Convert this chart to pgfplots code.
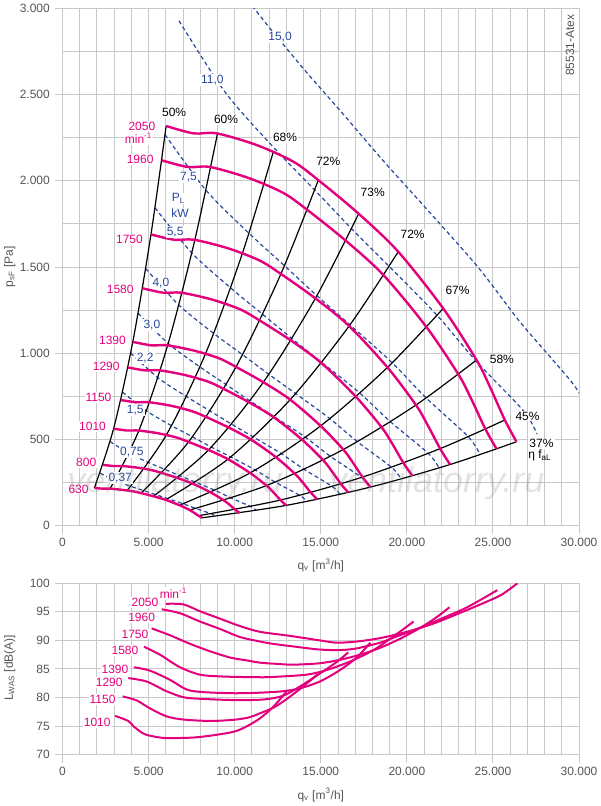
\documentclass[border=0pt]{standalone}
\usepackage{pgfplots}
\pgfplotsset{compat=1.18}
\usepackage{fontspec}
\setmainfont{Liberation Sans}
\definecolor{mag}{RGB}{228,0,124}
\definecolor{pblue}{RGB}{40,72,158}
\definecolor{gridc}{RGB}{200,200,200}
\definecolor{tickc}{RGB}{85,85,85}
\newcommand\fs{\fontsize{9}{10.8}\selectfont}
\tikzset{lab/.style={font=\fs, inner sep=0.8pt, fill=white}}
\pgfplotsset{
  chart/.style={
    scale only axis, width=387.4pt, xmin=0, xmax=30000,
    xtick={0,5000,...,30000}, minor x tick num=4,
    grid=both,
    major grid style={draw=gridc, line width=0.75pt},
    minor grid style={draw=gridc, line width=0.75pt},
    axis line style={draw=gridc, line width=0.75pt},
    tick align=outside, major tick length=6pt, minor tick length=0pt,
    tick style={draw=gridc, line width=0.75pt},
    xtick pos=bottom, ytick pos=left,
    scaled ticks=false,
    ticklabel style={font=\fs, text=tickc},
    /pgf/number format/1000 sep={.},
    /pgf/number format/assume math mode=true,
    clip mode=individual,
  },
  sc/.style={mag, line width=1.8pt, smooth, tension=0.5},
  ef/.style={black, line width=0.9pt, smooth},
  pw/.style={pblue, line width=0.9pt, dash pattern=on 3pt off 2.2pt, smooth, tension=0.5},
}
\begin{document}
\begin{tikzpicture}
\useasboundingbox (0pt,0pt) rectangle (450pt,604.5pt);
% ================= TOP CHART =================
\begin{axis}[chart, at={(46.9pt,210.2pt)}, anchor=south west,
  height=388.05pt, ymin=0, ymax=3000, ytick={0,500,...,3000}, minor y tick num=1]
% power lines
\addplot[pw] coordinates {(2183,305)(3054,262)(3971,228)(4726,203)(5418,180)(6124,157)(7020,127)(7742,100)(8640,69)(8894,55)};
\addplot[pw] coordinates {(2762,488)(3865,419)(5025,365)(5981,325)(6858,288)(7751,251)(8886,204)(9801,160)(10936,111)(11256,89)};
\addplot[pw] coordinates {(3480,775)(4869,666)(6331,580)(7536,516)(8640,456)(9765,399)(11196,323)(12350,253)(13780,176)(14180,141)};
\addplot[pw] coordinates {(3956,1002)(5531,859)(7193,749)(8563,666)(9816,589)(11092,514)(12722,417)(14030,327)(15656,228)(16110,182)};
\addplot[pw] coordinates {(4387,1232)(6134,1057)(7977,921)(9494,819)(10884,724)(12301,632)(14108,513)(15560,402)(17361,280)(17866,224)};
\addplot[pw] coordinates {(4828,1492)(6752,1280)(8779,1115)(10451,992)(11980,878)(13539,766)(15527,621)(17125,487)(19108,339)(19667,271)};
\addplot[pw] coordinates {(5368,1844)(7507,1582)(9762,1379)(11622,1226)(13321,1085)(15054,947)(17267,769)(19044,603)(21248,419)(21866,335)};
\addplot[pw] coordinates {(5952,2268)(8325,1946)(10826,1696)(12888,1508)(14771,1334)(16694,1165)(19146,945)(21119,741)(23563,516)(24252,412)};
\addplot[pw] coordinates {(6764,2928)(9459,2512)(12300,2189)(14642,1947)(16784,1722)(18968,1504)(21753,1220)(23995,957)(26772,666)(27554,532)};
\addplot[pw] coordinates {(7500,3600)(10490,3089)(13640,2692)(16236,2394)(18610,2118)(21034,1849)(24123,1500)(26608,1177)(29685,818)(30556,654)};
% efficiency lines
\addplot[ef] coordinates {(1849,219)(2965,563)(4080,1066)(5137,1689)(6018,2318)};
\addplot[ef] coordinates {(2766,215)(4434,552)(6102,1045)(7683,1657)(9000,2274)};
\addplot[ef] coordinates {(3763,205)(6032,527)(8302,997)(10452,1581)(12244,2169)};
\addplot[ef] coordinates {(4566,189)(7319,486)(10073,921)(12682,1460)(14856,2004)};
\addplot[ef] coordinates {(5286,171)(8474,439)(11662,832)(14683,1318)(17200,1809)};
\addplot[ef] coordinates {(5992,150)(9606,386)(13221,731)(16645,1158)(19498,1589)};
\addplot[ef] coordinates {(6795,119)(10893,306)(14991,579)(18874,918)(22109,1260)};
\addplot[ef] coordinates {(7390,91)(11846,233)(16304,442)(20526,700)(24045,961)};
\addplot[ef] coordinates {(7895,58)(12657,149)(17419,282)(21930,447)(25690,613)};
\addplot[ef] coordinates {(8103,46)(12990,118)(17878,224)(22508,355)(26367,487)};
% speed curves
\addplot[sc] coordinates {(6018,2318)(7602,2275)(8960,2275)(11281,2207)(13405,2111)(14856,2004)(17177,1811)(19498,1589)(22109,1260)(24045,961)(24819,806)(25690,613)(26367,487)};
\addplot[sc] coordinates {(5754,2119)(7268,2080)(8567,2080)(10786,2017)(12817,1930)(14204,1832)(16423,1655)(18642,1453)(21138,1152)(22989,878)(23729,737)(24562,560)(25210,445)};
\addplot[sc] coordinates {(5137,1689)(6490,1658)(7649,1658)(9630,1608)(11443,1538)(12682,1460)(14663,1320)(16645,1158)(18874,918)(20526,700)(21187,587)(21930,447)(22508,355)};
\addplot[sc] coordinates {(4638,1377)(5859,1351)(6906,1351)(8695,1311)(10332,1254)(11450,1190)(13239,1076)(15028,944)(17040,748)(18532,571)(19129,479)(19800,364)(20322,289)};
\addplot[sc] coordinates {(4080,1066)(5155,1046)(6075,1046)(7649,1015)(9089,971)(10073,921)(11647,833)(13221,731)(14991,579)(16304,442)(16829,371)(17419,282)(17878,224)};
\addplot[sc] coordinates {(3787,918)(4784,901)(5638,901)(7099,874)(8435,836)(9348,794)(10809,717)(12269,629)(13912,499)(15131,381)(15618,319)(16166,243)(16592,193)};
\addplot[sc] coordinates {(3376,729)(4265,716)(5026,716)(6328,695)(7520,664)(8334,631)(9636,570)(10938,500)(12403,397)(13489,302)(13923,254)(14412,193)(14791,153)};
\addplot[sc] coordinates {(2965,563)(3745,552)(4414,552)(5558,536)(6604,512)(7319,486)(8463,440)(9606,386)(10893,306)(11846,233)(12228,196)(12657,149)(12990,118)};
\addplot[sc] coordinates {(2348,353)(2967,346)(3497,346)(4402,336)(5231,321)(5797,305)(6703,276)(7609,242)(8628,192)(9383,146)(9685,123)(10025,93)(10290,74)};
\addplot[sc] coordinates {(1849,219)(2336,215)(2754,215)(3467,208)(4120,199)(4566,189)(5279,171)(5992,150)(6795,119)(7390,91)(7627,76)(7895,58)(8103,46)};
% speed labels
\node[lab, text=mag] at (axis cs:4607,2318) {2050};
\node[lab, text=mag] at (axis cs:4410,2246) {min\textsuperscript{-1}};
\node[lab, text=mag] at (axis cs:4509,2124) {1960};
\node[lab, text=mag] at (axis cs:3888,1661) {1750};
\node[lab, text=mag] at (axis cs:3348,1372) {1580};
\node[lab, text=mag] at (axis cs:2902,1077) {1390};
\node[lab, text=mag] at (axis cs:2536,922) {1290};
\node[lab, text=mag] at (axis cs:2089,742) {1150};
\node[lab, text=mag] at (axis cs:1741,574) {1010};
\node[lab, text=mag] at (axis cs:1375,365) {800};
\node[lab, text=mag] at (axis cs:928,213) {630};
% power labels
\node[lab, text=pblue] at (axis cs:12633,2835) {15,0};
\node[lab, text=pblue] at (axis cs:8705,2584) {11,0};
\node[lab, text=pblue] at (axis cs:7312,2024) {7,5};
\node[lab, text=pblue] at (axis cs:6731,1898) {P\textsubscript{L}};
\node[lab, text=pblue] at (axis cs:6830,1811) {kW};
\node[lab, text=pblue] at (axis cs:6540,1705) {5,5};
\node[lab, text=pblue] at (axis cs:5710,1405) {4,0};
\node[lab, text=pblue] at (axis cs:5188,1164) {3,0};
\node[lab, text=pblue] at (axis cs:4799,970) {2,2};
\node[lab, text=pblue] at (axis cs:4219,671) {1,5};
\node[lab, text=pblue] at (axis cs:4027,429) {0,75};
\node[lab, text=pblue] at (axis cs:3348,275) {0,37};
% efficiency labels
\node[lab] at (axis cs:6482,2395) {50\%};
\node[lab] at (axis cs:9499,2356) {60\%};
\node[lab] at (axis cs:12923,2252) {68\%};
\node[lab] at (axis cs:15436,2111) {72\%};
\node[lab] at (axis cs:18013,1931) {73\%};
\node[lab] at (axis cs:20333,1690) {72\%};
\node[lab] at (axis cs:22944,1363) {67\%};
\node[lab] at (axis cs:25515,965) {58\%};
\node[lab] at (axis cs:27006,636) {45\%};
\node[lab] at (axis cs:27817,478) {37\%};
\node[font=\fs, inner sep=0.8pt] at (axis cs:27720,405) {η f\textsubscript{aL}};
\node[font=\fs, text=tickc, rotate=90] at (axis cs:29472,2787) {85531-Atex};
% watermark
\node[font=\fontsize{27}{30}\selectfont\itshape, text=gray, opacity=0.22] at (axis cs:6533,248) {ventilatorry.ru};
\node[font=\fontsize{27}{30}\selectfont\itshape, text=gray, opacity=0.22] at (axis cs:21733,248) {ventilatorry.ru};
% axis labels
\node[font=\fs, text=tickc, rotate=90] at (rel axis cs:-0.102,0.5) {p\textsubscript{sF} [Pa]};
\node[font=\fs, text=tickc] at (rel axis cs:0.5,-0.076) {q\textsubscript{v} [m\textsuperscript{3}/h]};
\end{axis}
% ================= BOTTOM CHART =================
\begin{axis}[chart, at={(46.9pt,38.5pt)}, anchor=south west,
  height=128.55pt, ymin=70, ymax=100, ytick={70,75,...,100}, minor y tick num=0]
\addplot[mag, line width=1.5pt, smooth, tension=0.5] coordinates {(6008,96.4)(7016,96.3)(7985,95.1)(9147,93.8)(10310,92.5)(11473,91.5)(13190,90.8)(14942,90.0)(15915,89.6)(17082,89.8)(18444,90.4)(20001,91.5)(21500,92.9)(23000,94.7)(24500,96.6)(25500,98.0)(26423,100)};
\addplot[mag, line width=1.5pt, smooth, tension=0.5] coordinates {(5756,95.45)(6822,94.75)(7985,93.3)(9147,92.0)(10300,90.6)(11473,89.8)(12217,89.4)(13774,88.8)(14942,88.4)(16109,88.3)(17082,88.6)(18444,89.6)(19417,90.7)(20500,91.9)(22000,93.8)(23500,95.8)(25255,98.8)};
\addplot[mag, line width=1.5pt, smooth, tension=0.5] coordinates {(5174,92.1)(6240,90.9)(7403,89.4)(8566,88.1)(9729,87.0)(10698,86.5)(11473,86.1)(12400,85.9)(13385,85.75)(14942,86.0)(16109,86.6)(17277,87.5)(18444,88.7)(19612,90.3)(20780,92.2)(21700,94.0)(22473,95.8)};
\addplot[mag, line width=1.5pt, smooth, tension=0.5] coordinates {(4729,88.9)(5659,87.5)(6822,85.3)(7985,84.0)(9147,83.7)(10310,83.6)(11473,83.55)(12217,83.6)(14163,84.0)(15331,84.8)(16693,86.3)(18055,88.3)(19223,90.7)(20390,93.3)};
\addplot[mag, line width=1.5pt, smooth, tension=0.5] coordinates {(4147,85.3)(5078,84.7)(6240,83.1)(7209,81.4)(8178,80.95)(9923,80.75)(11473,80.85)(12800,81.1)(13774,81.6)(14942,82.8)(16109,84.8)(17082,87.0)(17878,89.6)};
\addplot[mag, line width=1.5pt, smooth, tension=0.5] coordinates {(3818,83.4)(4884,82.8)(6047,81.1)(7113,80.0)(8566,79.7)(9923,79.55)(10800,79.55)(11828,79.7)(12800,80.3)(13774,81.9)(14942,84.2)(15915,86.2)(16592,87.9)};
\addplot[mag, line width=1.5pt, smooth, tension=0.5] coordinates {(3488,80.2)(4302,79.5)(5078,78.1)(6047,76.7)(7016,76.15)(8566,75.9)(9923,76.1)(10800,76.5)(11438,77.2)(12412,78.5)(13580,81.0)(14791,84.0)};
\addplot[mag, line width=1.5pt, smooth, tension=0.5] coordinates {(3043,76.8)(3818,75.9)(4110,75.0)(4690,73.7)(5271,73.2)(6047,72.9)(7597,73.0)(8760,73.4)(9923,74.0)(10600,74.8)(11438,76.3)(12217,78.3)(12990,81.0)};
\node[lab, text=mag] at (axis cs:6434,98.25) {min\textsuperscript{-1}};
\node[lab, text=mag] at (axis cs:4787,96.6) {2050};
\node[lab, text=mag] at (axis cs:4593,94.05) {1960};
\node[lab, text=mag] at (axis cs:4205,91.1) {1750};
\node[lab, text=mag] at (axis cs:3624,88.2) {1580};
\node[lab, text=mag] at (axis cs:3043,84.95) {1390};
\node[lab, text=mag] at (axis cs:2713,82.6) {1290};
\node[lab, text=mag] at (axis cs:2326,79.7) {1150};
\node[lab, text=mag] at (axis cs:2016,75.6) {1010};
\node[font=\fs, text=tickc, rotate=90] at (rel axis cs:-0.102,0.506) {L\textsubscript{WAS} [dB(A)]};
\node[font=\fs, text=tickc] at (rel axis cs:0.5,-0.235) {q\textsubscript{v} [m\textsuperscript{3}/h]};
\end{axis}
\end{tikzpicture}
\end{document}
